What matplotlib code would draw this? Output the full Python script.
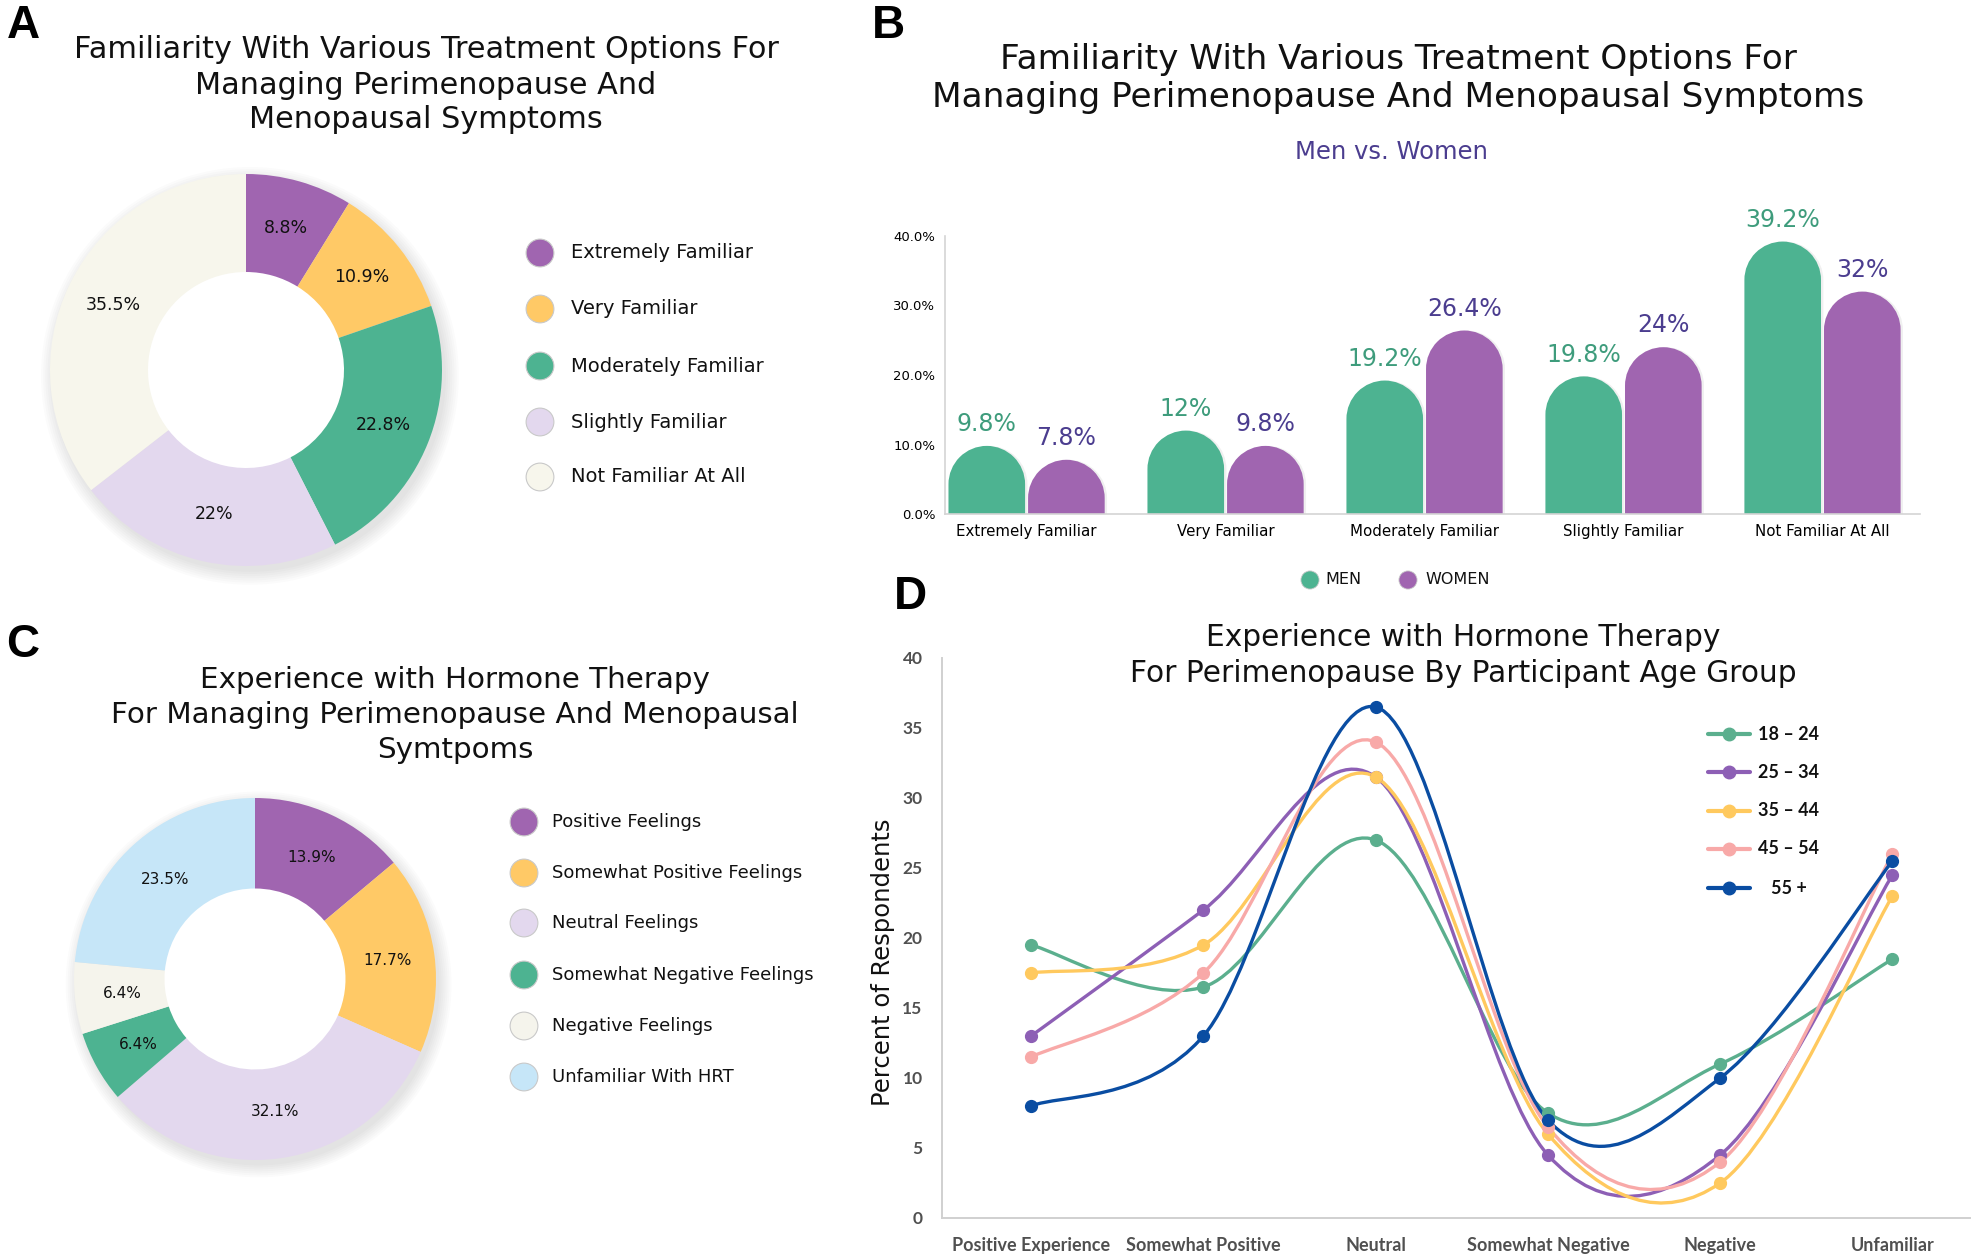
import numpy as np
import matplotlib
matplotlib.use("Agg")
import matplotlib.pyplot as plt
from matplotlib.path import Path
from matplotlib.patches import PathPatch, Circle

# ---------------- data ----------------
famil_labels = ["Extremely Familiar", "Very Familiar", "Moderately Familiar",
                "Slightly Familiar", "Not Familiar At All"]
famil_overall = [8.8, 10.9, 22.8, 22, 35.5]
famil_men = [9.8, 12, 19.2, 19.8, 39.2]
famil_women = [7.8, 9.8, 26.4, 24, 32]
famil_colors = ["#A065B0", "#FFC966", "#4DB391", "#E3D8EE", "#F7F6EC"]

hrt_labels = ["Positive Feelings", "Somewhat Positive Feelings", "Neutral Feelings",
              "Somewhat Negative Feelings", "Negative Feelings", "Unfamiliar With HRT"]
hrt_values = [13.9, 17.7, 32.1, 6.4, 6.4, 23.5]
hrt_colors = ["#A065B0", "#FFC966", "#E3D8EE", "#4DB391", "#F5F4EC", "#C6E6F8"]

exp_categories = ["Positive Experience", "Somewhat Positive", "Neutral",
                  "Somewhat Negative", "Negative", "Unfamiliar"]
age_groups = ["18 – 24", "25 – 34", "35 – 44", "45 – 54", "55 +"]
age_18_24 = [19.5, 16.5, 27, 7.5, 11, 18.5]
age_25_34 = [13, 22, 31.5, 4.5, 4.5, 24.5]
age_35_44 = [17.5, 19.5, 31.5, 6, 2.5, 23]
age_45_54 = [11.5, 17.5, 34, 6.5, 4, 26]
age_55_plus = [8, 13, 36.5, 7, 10, 25.5]
age_series = [age_18_24, age_25_34, age_35_44, age_45_54, age_55_plus]
age_colors = ["#5BAF8E", "#8D5FB5", "#FFC95E", "#F8A9A8", "#0A4DA2"]

MEN_C, WOMEN_C = "#4DB391", "#A065B0"
MEN_TXT, WOMEN_TXT = "#3E9C7C", "#4B3D8F"

# ---------------- fonts ----------------
plt.rcParams["font.family"] = ["DejaVu Sans"]
LETTER_FONT = ["Liberation Sans Narrow", "Liberation Sans", "DejaVu Sans"]
COND_FONT = ["Lato", "Open Sans", "DejaVu Sans"]

W, H = 1980, 1257
fig = plt.figure(figsize=(W / 100, H / 100), dpi=100)
fig.patch.set_facecolor("white")

ov = fig.add_axes([0, 0, 1, 1], zorder=5)
ov.set_xlim(0, W)
ov.set_ylim(H, 0)
ov.axis("off")


def ax_px(left, top, right, bottom, **kw):
    return fig.add_axes([left / W, 1 - bottom / H, (right - left) / W, (bottom - top) / H], **kw)


# panel letters
for letter, (lx, ly) in zip("ABCD", [(23, 26), (888, 26), (23, 645), (910, 597)]):
    ov.text(lx, ly, letter, fontsize=33, fontweight="bold", family=LETTER_FONT,
            ha="center", va="center", color="black")


def title(lines, x, ys, size):
    for t, y in zip(lines, ys):
        ov.text(x, y, t, fontsize=size, ha="center", va="center", color="#111111")


# ---------------- donut helper ----------------
def donut(ax, values, colors, width, fsize, pctdist):
    for k in range(7):
        ax.add_patch(Circle((0.02, -0.03), 1.0 + 0.011 * k, color="black",
                            alpha=0.016, lw=0, clip_on=False, zorder=0))
    ax.add_patch(Circle((0, 0), 1 - width + 0.005, color="white", lw=0, zorder=0.5))
    wedges, _ = ax.pie(values, colors=colors, startangle=90, counterclock=False,
                       radius=1, wedgeprops=dict(width=width, edgecolor="none", linewidth=0))
    for w in wedges:
        w.set_zorder(1)
    for w, v in zip(wedges, values):
        th = np.deg2rad((w.theta1 + w.theta2) / 2)
        ax.text(pctdist * np.cos(th), pctdist * np.sin(th), f"{v:g}%", ha="center",
                va="center", fontsize=fsize, color="#111111", zorder=3)
    ax.set_xlim(-1, 1)
    ax.set_ylim(-1, 1)
    ax.axis("off")


def legend_list(x_marker, x_text, ys, labels, colors, size, fsize):
    ov.scatter([x_marker] * len(ys), ys, s=size, c=colors, edgecolors="#C9C9C9",
               linewidths=0.8, zorder=6)
    for y, lab in zip(ys, labels):
        ov.text(x_text, y, lab, fontsize=fsize, ha="left", va="center", color="#111111")


# ---------------- Panel A ----------------
title(["Familiarity With Various Treatment Options For", "Managing Perimenopause And",
       "Menopausal Symptoms"], 426, [50, 85, 119], 21.8)
axA = ax_px(246 - 196, 370 - 196, 246 + 196, 370 + 196)
donut(axA, famil_overall, famil_colors, 0.5, 12.5, 0.755)
legend_list(540, 571, [253, 309, 366, 422, 477], famil_labels, famil_colors, 400, 14)

# ---------------- Panel B ----------------
title(["Familiarity With Various Treatment Options For",
       "Managing Perimenopause And Menopausal Symptoms"], 1398, [59, 98], 24.7)
ov.text(1391, 152, "Men vs. Women", fontsize=17.5, ha="center", va="center", color=WOMEN_TXT)

axB = ax_px(945, 236, 1920, 514)
axB.set_xlim(-0.41, 4.49)
axB.set_ylim(0, 40)
for s in ["top", "right"]:
    axB.spines[s].set_visible(False)
for s in ["left", "bottom"]:
    axB.spines[s].set_color("#D4D4D4")
    axB.spines[s].set_linewidth(1.2)
axB.set_yticks([0, 10, 20, 30, 40])
axB.set_yticklabels([f"{v:.1f}%" for v in [0, 10, 20, 30, 40]], fontsize=9.5)
axB.set_xticks(range(len(famil_labels)))
axB.set_xticklabels(famil_labels, fontsize=10.8)
axB.tick_params(length=0, pad=7)

bar_w = 0.385
pos = axB.get_position()
px_per_x = pos.width * W / (4.49 + 0.41)
px_per_y = pos.height * H / 40.0


def rounded_bar(ax, xc, h, w, color):
    rx = w / 2
    ry = rx * px_per_x / px_per_y
    arc = Path.arc(0, 180)
    av = arc.vertices[1:]
    verts = [(xc + rx, 0), (xc + rx, h - ry)]
    codes = [Path.MOVETO, Path.LINETO]
    for vx, vy in av:
        verts.append((xc + rx * vx, h - ry + ry * vy))
    codes += list(arc.codes[1:])
    verts += [(xc - rx, 0), (xc + rx, 0)]
    codes += [Path.LINETO, Path.CLOSEPOLY]
    sh = PathPatch(Path(np.array(verts) + np.array([0.012, 0]), codes), facecolor="black",
                   alpha=0.06, lw=0, zorder=1)
    ax.add_patch(sh)
    ax.add_patch(PathPatch(Path(verts, codes), facecolor=color, edgecolor="none", zorder=2))


for i, (m, wv) in enumerate(zip(famil_men, famil_women)):
    rounded_bar(axB, i - 0.2, m, bar_w, MEN_C)
    rounded_bar(axB, i + 0.2, wv, bar_w, WOMEN_C)
    axB.annotate(f"{m:g}%", (i - 0.2, m), xytext=(0, 7), textcoords="offset points",
                 ha="center", va="bottom", fontsize=17, color=MEN_TXT, annotation_clip=False)
    axB.annotate(f"{wv:g}%", (i + 0.2, wv), xytext=(0, 7), textcoords="offset points",
                 ha="center", va="bottom", fontsize=17, color=WOMEN_TXT, annotation_clip=False)

# legend B
ov.scatter([1310, 1408], [580, 580], s=170, c=[MEN_C, WOMEN_C], edgecolors="#C9C9C9",
           linewidths=0.6, zorder=6)
ov.text(1325, 580, "MEN", fontsize=11.5, ha="left", va="center", color="#111111")
ov.text(1425, 580, "WOMEN", fontsize=11.5, ha="left", va="center", color="#111111")

# ---------------- Panel C ----------------
title(["Experience with Hormone Therapy", "For Managing Perimenopause And Menopausal",
       "Symtpoms"], 455, [680, 715, 750], 21.2)
axC = ax_px(255 - 181, 979 - 181, 255 + 181, 979 + 181)
donut(axC, hrt_values, hrt_colors, 0.5, 11, 0.74)
legend_list(524, 552, [822, 873, 923, 975, 1026, 1077], hrt_labels, hrt_colors, 400, 13)

# ---------------- Panel D ----------------
title(["Experience with Hormone Therapy", "For Perimenopause By Participant Age Group"],
      1463, [638, 674], 21.3)
axD = ax_px(942, 658, 1970, 1218)
axD.set_xlim(-0.517, 5.45)
axD.set_ylim(0, 40)
for s in ["top", "right"]:
    axD.spines[s].set_visible(False)
for s in ["left", "bottom"]:
    axD.spines[s].set_color("#D0D0D0")
    axD.spines[s].set_linewidth(1.4)
axD.set_yticks(range(0, 41, 5))
axD.set_xticks(range(len(exp_categories)))
axD.set_xticklabels(exp_categories)
axD.tick_params(length=0)
axD.tick_params(axis="y", pad=14)
axD.tick_params(axis="x", pad=14)
for lab in axD.get_xticklabels():
    lab.set_fontsize(13)
    lab.set_fontweight("bold")
    lab.set_family(COND_FONT)
    lab.set_color("#505050")
for lab in axD.get_yticklabels():
    lab.set_fontsize(12.5)
    lab.set_fontweight("bold")
    lab.set_family(COND_FONT)
    lab.set_color("#505050")
axD.set_ylabel("Percent of Respondents", fontsize=17.5, family=["DejaVu Sans"], va="center",
               color="#111111")
axD.yaxis.set_label_coords(-0.057, 0.457)


def smooth_path(xs, ys):
    pts = np.column_stack([xs, ys]).astype(float)
    n = len(pts)
    verts = [pts[0]]
    codes = [Path.MOVETO]
    for i in range(n - 1):
        p0 = pts[i - 1] if i > 0 else pts[i]
        p1, p2 = pts[i], pts[i + 1]
        p3 = pts[i + 2] if i + 2 < n else pts[i + 1]
        verts += [p1 + (p2 - p0) / 6, p2 - (p3 - p1) / 6, p2]
        codes += [Path.CURVE4] * 3
    return Path(verts, codes)


xD = np.arange(len(exp_categories))
for ys, c in zip(age_series, age_colors):
    axD.add_patch(PathPatch(smooth_path(xD, ys), facecolor="none", edgecolor=c, lw=2.4,
                            zorder=3, capstyle="round"))
    axD.plot(xD, ys, linestyle="none", marker="o", ms=8.5, color=c, zorder=4)

# legend D
legend_rows = [734, 772, 811, 849, 888]
for y, lab, c in zip(legend_rows, age_groups, age_colors):
    ov.plot([1708, 1750], [y, y], color=c, lw=3, solid_capstyle="round", zorder=6)
    ov.plot([1729], [y], marker="o", ms=9, color=c, zorder=7)
    ov.text(1789, y, lab, fontsize=13, fontweight="bold", family=COND_FONT,
            ha="center", va="center", color="#111111")

fig.savefig("out.png", dpi=100, facecolor="white")
